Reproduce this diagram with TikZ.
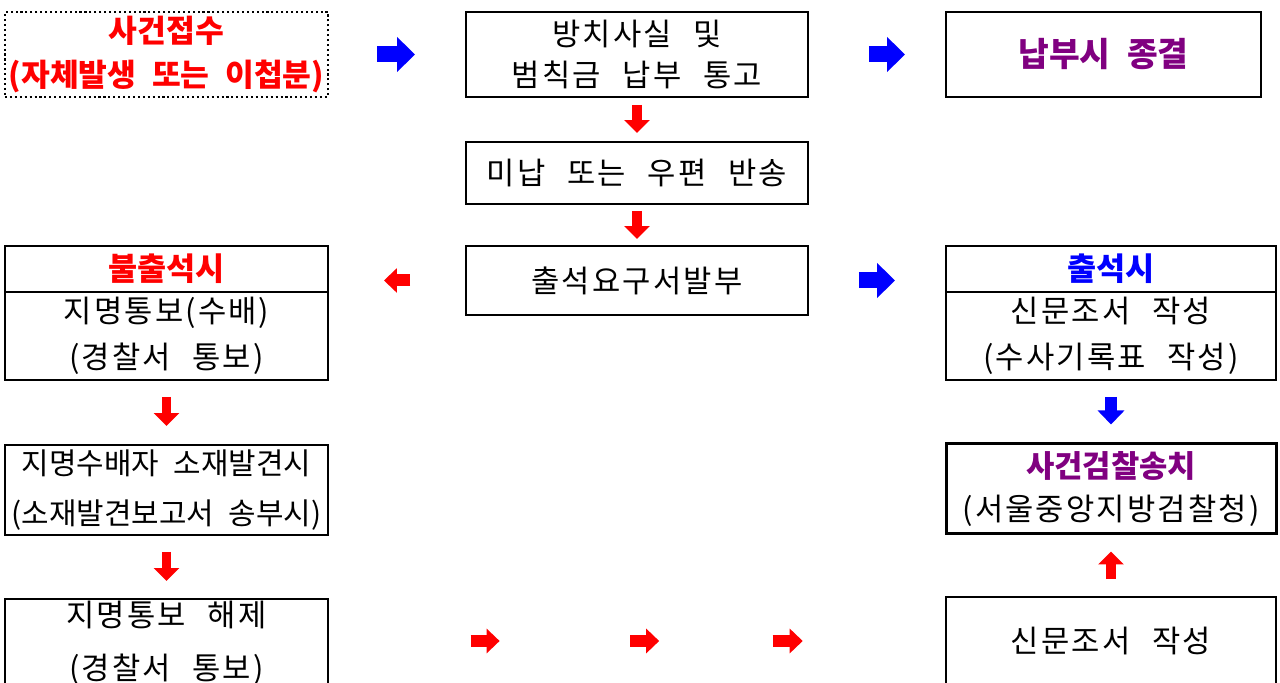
\documentclass[tikz,border=0pt]{standalone}
\usepackage{fontspec}
\setmainfont{Noto Sans CJK KR}[LetterSpace=7,WordSpace=2.4]
\newfontfamily\krtight{Noto Sans CJK KR}[WordSpace=2.2]
\usetikzlibrary{arrows.meta}
\usetikzlibrary{calc}

\definecolor{hdpurple}{RGB}{128,0,128}

\tikzset{
  box/.style={draw, line width=1.1pt, inner sep=0pt, align=center,
    font=\fontsize{17.5}{25}\selectfont},
  dotbox/.style={box, line width=1.3pt, dash pattern=on 1.2pt off 1.6pt},
  headtxt/.style={font=\fontsize{18}{25}\selectfont\krtight\bfseries},
  bigblue/.style={blue, line width=0.32cm, -{Triangle[length=0.36cm,width=0.68cm]}},
  downblue/.style={blue, line width=0.24cm, -{Triangle[length=0.28cm,width=0.52cm]}},
  redarr/.style={red, line width=0.19cm, -{Triangle[length=0.26cm,width=0.5cm]}},
  smallred/.style={red, line width=0.24cm, -{Triangle[length=0.26cm,width=0.48cm]}}
}

\begin{document}
\begin{tikzpicture}
\useasboundingbox (0,0) rectangle (25.6,13.66);
%
\node[dotbox, minimum width=6.46cm, minimum height=1.70cm,
  font=\fontsize{17.8}{25}\selectfont\krtight\bfseries, text=red] (jupsu) at (3.33,12.57) {%
  사건접수\\(자체발생 또는 이첩분)%
};
%
\node[box, minimum width=6.84cm, minimum height=1.70cm,
  font=\fontsize{17.5}{22.8}\selectfont] (tonggo) at (12.74,12.57) {%
  방치사실 및\\범칙금 납부 통고%
};
%
\node[box, minimum width=6.30cm, minimum height=1.70cm,
  font=\fontsize{19}{25}\selectfont\krtight\bfseries, text=hdpurple] (jonggyeol) at (22.07,12.57) {%
  납부시 종결%
};
%
\node[box, minimum width=6.84cm, minimum height=1.24cm] (minap) at (12.74,10.20) {%
  미납 또는 우편 반송%
};
%
\node[box, minimum width=6.84cm, minimum height=1.38cm] (chulseok) at (12.74,8.05) {%
  출석요구서발부%
};
%
\node[box, headtxt, minimum width=6.46cm, minimum height=0.92cm, text=red] (bulhead) at (3.33,8.28) {%
  불출석시%
};
\node[box, minimum width=6.46cm, minimum height=1.76cm,
  font=\fontsize{17.5}{26}\selectfont] (bulbody) at (3.33,6.94) {%
  지명통보(수배)\\(경찰서 통보)%
};
%
\node[box, headtxt, minimum width=6.60cm, minimum height=0.92cm, text=blue] (chulhead) at (22.22,8.28) {%
  출석시%
};
\node[box, minimum width=6.60cm, minimum height=1.76cm,
  font=\fontsize{17.5}{26}\selectfont] (chulbody) at (22.22,6.94) {%
  신문조서 작성\\(수사기록표 작성)%
};
%
\node[box, minimum width=6.46cm, minimum height=1.80cm,
  font=\fontsize{17}{28}\selectfont\krtight] (balgyeon) at (3.33,3.86) {%
  지명수배자 소재발견시\\(소재발견보고서 송부시)%
};
%
\node[box, line width=1.7pt, minimum width=6.60cm, minimum height=1.80cm,
  font=\fontsize{17.5}{25}\selectfont] (songchi) at (22.22,3.88) {%
  {\fontsize{17.5}{25}\selectfont\krtight\bfseries\color{hdpurple}사건검찰송치}\\(서울중앙지방검찰청)%
};
%
\node[box, minimum width=6.46cm, minimum height=1.76cm,
  font=\fontsize{17.5}{30}\selectfont] (haeje) at (3.33,0.80) {%
  지명통보 해제\\(경찰서 통보)%
};
%
\node[box, minimum width=6.60cm, minimum height=1.76cm] (sinmun) at (22.22,0.84) {%
  신문조서 작성%
};
%
\draw[bigblue, shorten <=0.96cm, shorten >=1.0cm] (jupsu)--(tonggo);
\draw[bigblue, shorten <=1.2cm, shorten >=0.8cm] (tonggo)--(jonggyeol);
\draw[redarr, shorten <=0.14cm, shorten >=0.16cm] (tonggo)--(minap);
\draw[redarr, shorten <=0.12cm, shorten >=0.12cm] (minap)--(chulseok);
\draw[smallred, shorten <=1.1cm, shorten >=1.1cm] (chulseok.west)--(chulseok.west -| bulhead.east);
\draw[bigblue, shorten <=1.0cm, shorten >=1.0cm] (chulseok.east)--(chulseok.east -| chulhead.west);
\draw[redarr, shorten <=0.32cm, shorten >=0.36cm] (bulbody)--(balgyeon);
\draw[redarr, shorten <=0.32cm, shorten >=0.34cm] (balgyeon)--(haeje.north);
\draw[downblue, shorten <=0.32cm, shorten >=0.36cm] (chulbody)--(songchi);
\draw[redarr, shorten <=0.34cm, shorten >=0.32cm] (sinmun)--(songchi);
%
\draw[smallred] ($(sinmun.west)!0.770!(sinmun.west -| haeje.east)$)--($(sinmun.west)!0.723!(sinmun.west -| haeje.east)$);
\draw[smallred] ($(sinmun.west)!0.511!(sinmun.west -| haeje.east)$)--($(sinmun.west)!0.464!(sinmun.west -| haeje.east)$);
\draw[smallred] ($(sinmun.west)!0.280!(sinmun.west -| haeje.east)$)--($(sinmun.west)!0.231!(sinmun.west -| haeje.east)$);
\end{tikzpicture}
\end{document}
